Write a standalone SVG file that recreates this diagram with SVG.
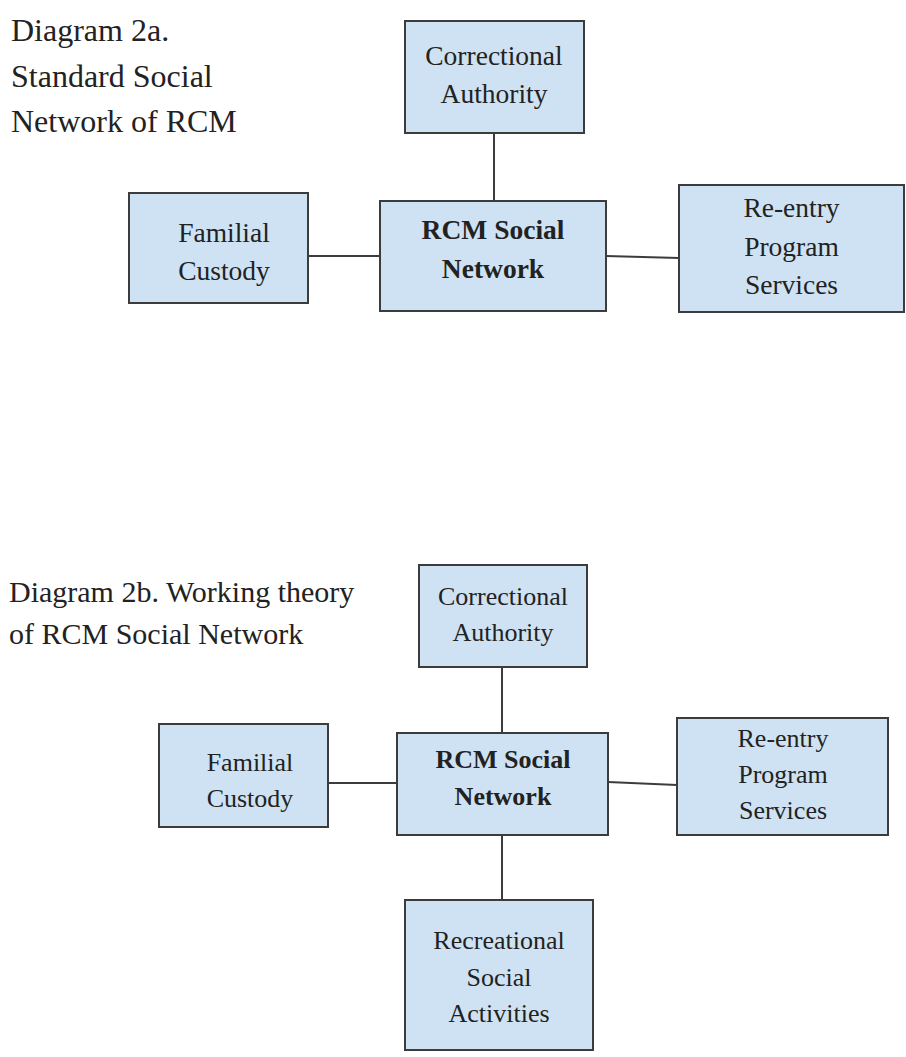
<svg xmlns="http://www.w3.org/2000/svg" width="906" height="1057" viewBox="0 0 906 1057">
  <style>
    .box { fill: #cfe2f3; stroke: #3c3c3c; stroke-width: 2; }
    .edge { stroke: #3c3c3c; stroke-width: 2; fill: none; }
    .t { font-family: "Liberation Serif", "Times New Roman", serif; fill: #222; }
    .lbl { text-anchor: middle; }
    .a { font-size: 27.5px; }
    .b { font-size: 26px; }
    .bold { font-weight: bold; }
  </style>
  <rect width="906" height="1057" fill="#ffffff"/>

  <!-- Diagram 2a -->
  <g id="title-2a">
    <text class="t" font-size="32" x="11" y="41">Diagram 2a.</text>
    <text class="t" font-size="32" x="11" y="87">Standard Social</text>
    <text class="t" font-size="32" x="11" y="132">Network of RCM</text>
  </g>

  <g id="edges-2a">
    <line class="edge" x1="494" y1="134" x2="494" y2="201"/>
    <line class="edge" x1="308" y1="256" x2="380" y2="256"/>
    <line class="edge" x1="606" y1="256" x2="679" y2="258"/>
  </g>

  <g id="a-correctional">
    <rect class="box" x="405" y="21" width="179" height="112"/>
    <text class="t lbl a" x="494" y="65">Correctional</text>
    <text class="t lbl a" x="494" y="103">Authority</text>
  </g>
  <g id="a-familial">
    <rect class="box" x="129" y="193" width="179" height="110"/>
    <text class="t lbl a" x="224" y="242">Familial</text>
    <text class="t lbl a" x="224" y="280">Custody</text>
  </g>
  <g id="a-center">
    <rect class="box" x="380" y="201" width="226" height="110"/>
    <text class="t lbl a bold" x="493" y="239">RCM Social</text>
    <text class="t lbl a bold" x="493" y="278">Network</text>
  </g>
  <g id="a-reentry">
    <rect class="box" x="679" y="185" width="225" height="127"/>
    <text class="t lbl a" x="791.5" y="217">Re-entry</text>
    <text class="t lbl a" x="791.5" y="256">Program</text>
    <text class="t lbl a" x="791.5" y="294">Services</text>
  </g>

  <!-- Diagram 2b -->
  <g id="title-2b">
    <text class="t" font-size="30" x="9" y="602">Diagram 2b. Working theory</text>
    <text class="t" font-size="30" x="9" y="644">of RCM Social Network</text>
  </g>

  <g id="edges-2b">
    <line class="edge" x1="502" y1="668" x2="502" y2="733"/>
    <line class="edge" x1="329" y1="783" x2="397" y2="783"/>
    <line class="edge" x1="608" y1="782" x2="677" y2="785"/>
    <line class="edge" x1="502" y1="835" x2="502" y2="900"/>
  </g>

  <g id="b-correctional">
    <rect class="box" x="419" y="565" width="168" height="102"/>
    <text class="t lbl b" x="503" y="605">Correctional</text>
    <text class="t lbl b" x="503" y="641">Authority</text>
  </g>
  <g id="b-familial">
    <rect class="box" x="159" y="724" width="169" height="103"/>
    <text class="t lbl b" x="250" y="771">Familial</text>
    <text class="t lbl b" x="250" y="807">Custody</text>
  </g>
  <g id="b-center">
    <rect class="box" x="397" y="733" width="211" height="102"/>
    <text class="t lbl b bold" x="503" y="768">RCM Social</text>
    <text class="t lbl b bold" x="503" y="805">Network</text>
  </g>
  <g id="b-reentry">
    <rect class="box" x="677" y="718" width="211" height="117"/>
    <text class="t lbl b" x="783" y="747">Re-entry</text>
    <text class="t lbl b" x="783" y="783">Program</text>
    <text class="t lbl b" x="783" y="819">Services</text>
  </g>
  <g id="b-recreational">
    <rect class="box" x="405" y="900" width="188" height="150"/>
    <text class="t lbl b" x="499" y="949">Recreational</text>
    <text class="t lbl b" x="499" y="986">Social</text>
    <text class="t lbl b" x="499" y="1022">Activities</text>
  </g>
</svg>
